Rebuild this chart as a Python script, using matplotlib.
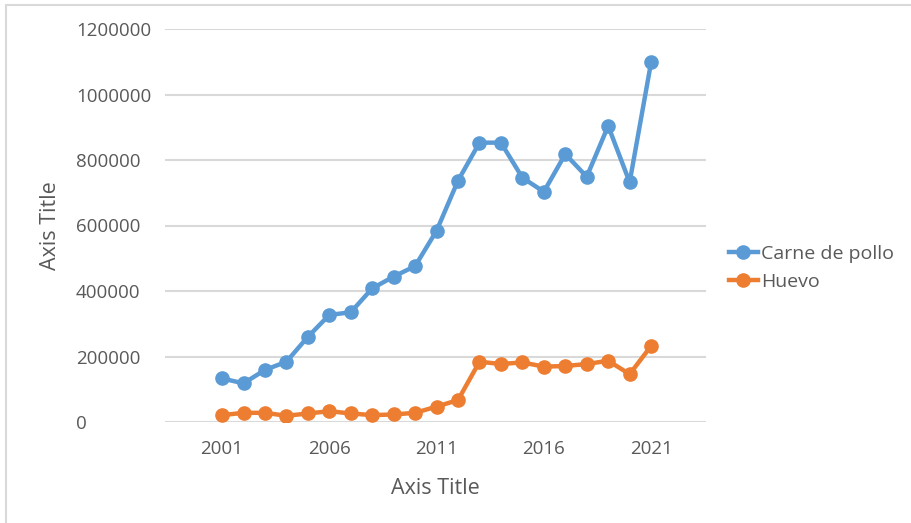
import matplotlib.pyplot as plt
from matplotlib.patches import Rectangle

years = list(range(2001, 2022))
pollo = [133000, 118000, 159000, 184000, 260000, 327000, 335000, 408000,
         444000, 476000, 584000, 737000, 853000, 853000, 746000, 703000,
         818000, 749000, 904000, 732000, 1098000]
huevo = [21000, 28000, 28000, 19000, 26000, 33000, 26000, 21000,
         23000, 28000, 47000, 67000, 184000, 177000, 182000, 169000,
         171000, 177000, 187000, 146000, 232000]
series_names = ['Carne de pollo', 'Huevo']
yticks = [0, 200000, 400000, 600000, 800000, 1000000, 1200000]
xticks = [2001, 2006, 2011, 2016, 2021]

plt.rcParams['font.family'] = ['Open Sans', 'DejaVu Sans']
grey = '#595959'

fig = plt.figure(figsize=(9.11, 5.23), dpi=100)
# chart area border
fig.patches.append(Rectangle((6 / 911, -0.01), 1.0, 1 - 5 / 523 + 0.01,
                             transform=fig.transFigure, fill=False,
                             edgecolor='#d9d9d9', linewidth=1.5))

ax = fig.add_axes([165 / 911, 101 / 523, 541 / 911, 393 / 523])

ax.plot(years, pollo, color='#5b9bd5', lw=3.2, marker='o', ms=9.5,
        label=series_names[0], solid_joinstyle='round')
ax.plot(years, huevo, color='#ed7d31', lw=3.2, marker='o', ms=9.5,
        label=series_names[1], solid_joinstyle='round')

ax.set_xlim(1998.34, 2023.56)
ax.set_ylim(0, 1200000)
ax.set_yticks(yticks)
ax.set_yticklabels([str(v) for v in yticks])
ax.set_xticks(xticks)
ax.yaxis.grid(True, color='#d9d9d9', lw=1.5)
ax.set_axisbelow(True)
for s in ax.spines.values():
    s.set_visible(False)
ax.tick_params(length=0, labelsize=13.5, labelcolor=grey)
ax.tick_params(axis='y', pad=64)
for lbl in ax.get_yticklabels():
    lbl.set_horizontalalignment('left')
ax.tick_params(axis='x', pad=13)

ax.set_xlabel('Axis Title', fontsize=15.5, color=grey, labelpad=14)
ax.set_ylabel('Axis Title', fontsize=15.5, color=grey)
ax.yaxis.set_label_coords(-0.192, 0.5)

leg = ax.legend(loc='center left', bbox_to_anchor=(1.01, 0.392),
                frameon=False, fontsize=14, handlelength=1.5,
                handletextpad=0.15, labelspacing=0.55, markerscale=1.0)
for t in leg.get_texts():
    t.set_color(grey)

fig.savefig('out.png', dpi=100)
